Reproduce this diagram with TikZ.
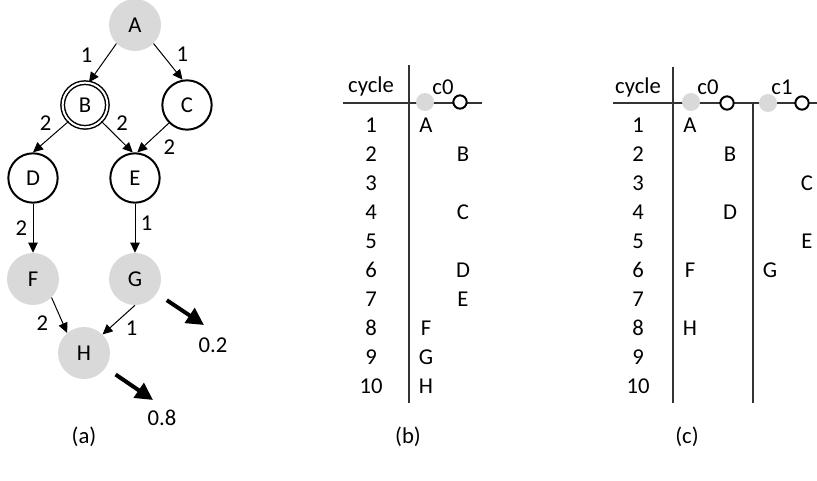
\documentclass[tikz,border=0pt]{standalone}
\usepackage{fontspec}
\setmainfont{Carlito}
\usetikzlibrary{arrows.meta}
\tikzset{
x=0.75pt, y=-0.75pt, % one unit is one pixel, y runs down
every node/.style={font=\fontsize{17}{20}\selectfont},
task/.style={circle, draw, line width=1.5pt, minimum size=37pt, inner sep=0pt}, % node still waiting
ready/.style={circle, fill=gray!30, minimum size=39pt, inner sep=0pt}, % node that can fire
branch/.style={task, double, line width=1.1pt, double distance=1.5pt, minimum size=33.5pt}, % the branch node
wire/.style={-{Triangle[length=7.5pt, width=7pt]}, line width=0.75pt},
outflow/.style={-{Triangle[length=13pt, width=13pt]}, line width=3pt},
lbl/.style={inner sep=1pt},
rule/.style={line width=1pt, draw=black!80},
hit/.style={circle, fill=gray!30, minimum size=13.5pt, inner sep=0pt}, % input side of a core
port/.style={circle, draw, line width=1.5pt, fill=white, minimum size=10pt, inner sep=0pt}, % output side of a core
}

\begin{document}
\begin{tikzpicture}
\useasboundingbox (0,0) rectangle (817,481);

% (a) the graph
\node[ready] (A) at (135,25) {A};
\node[branch] (B) at (85,105) {B};
\node[task] (C) at (187,105) {C};
\node[task] (D) at (33,178) {D};
\node[task] (E) at (135,178) {E};
\node[ready] (F) at (33,279) {F};
\node[ready] (G) at (135,279) {G};
\node[ready] (H) at (84,353) {H};

\draw (A.225) edge[wire] node[lbl, pos=0.3, left=10.5pt]{1} (B.80)
      (A.-45) edge[wire] node[lbl, pos=0.29, right=9.7pt]{1} (C.100)
      (B.225) edge[wire] node[lbl, pos=0.07, left=9.7pt]{2} (D.north)
      (B.-45) edge[wire] node[lbl, pos=0.07, right=8.2pt]{2} (E.95)
      (C.225) edge[wire] node[lbl, pos=0.82, right=14.2pt]{2} (E.85)
      (D) edge[wire] node[lbl, left=3pt]{2} (F)
      (E) edge[wire] node[lbl, pos=0.39, right=3pt]{1} (G)
      (F.-45) edge[wire] node[lbl, pos=0.73, left=9.7pt]{2} (H.130)
      (G.south) edge[wire] node[lbl, pos=0.79, right=11pt]{1} (H.45)
      ;

\coordinate (g-out) at (204,325);
\coordinate (h-out) at (153,400);
\draw[outflow, shorten <=9pt] (G) -- (g-out);
\draw[outflow, shorten <=9pt] (H) -- (h-out);
\node (g-frac) at (213,345) {0.2};
\node (h-frac) at (162,418) {0.8};

% (b) one core
\node (b-cyc) at (371,86) {cycle};
\coordinate (b-hl) at (343,103);
\coordinate (b-hr) at (482,103);
\coordinate (b-vt) at (409,65);
\coordinate (b-vb) at (409,403);
\draw[rule] (b-hl) -- (b-hr);
\draw[rule] (b-vt) -- (b-vb);
\node[hit] (b-in0) at (425,102) {};
\node[port] (b-out0) at (460,102) {};
\node (b-c0) at (443,87) {c0};
\foreach \i in {1,...,10}
  \node (b-n\i) at (371,{125+29*(\i-1)}) {\i};
\foreach \t/\x/\r in {A/426/1, B/463/2, C/463/4, D/463/6, E/463/7, F/426/8, G/426/9, H/426/10}
  \node (b-\t) at (\x,{125+29*(\r-1)}) {\t};

% (c) two cores
\node (c-cyc) at (638,87) {cycle};
\coordinate (c-hl) at (613,103);
\coordinate (c-hr) at (817,103);
\coordinate (c-vt) at (673,67);
\coordinate (c-vb) at (673,403);
\coordinate (c-wt) at (753,103);
\coordinate (c-wb) at (753,403);
\draw[rule] (c-hl) -- (c-hr);
\draw[rule] (c-vt) -- (c-vb);
\draw[rule] (c-wt) -- (c-wb);
\node[hit] (c-in0) at (691,102) {};
\node[port] (c-out0) at (727,103) {};
\node[hit] (c-in1) at (768,103) {};
\node[port] (c-out1) at (802,103) {};
\node (c-c0) at (708,87) {c0};
\node (c-c1) at (782,87) {c1};
\foreach \i in {1,...,10}
  \node (c-n\i) at (638,{125+29*(\i-1)}) {\i};
\foreach \t/\x/\r in {A/690/1, B/730/2, C/807/3, D/730/4, E/807/5, F/690/6, G/770/6, H/690/8}
  \node (c-\t) at (\x,{125+29*(\r-1)}) {\t};

% captions
\node (cap-a) at (84,437) {(a)};
\node (cap-b) at (408,437) {(b)};
\node (cap-c) at (687,437) {(c)};
\end{tikzpicture}
\end{document}
